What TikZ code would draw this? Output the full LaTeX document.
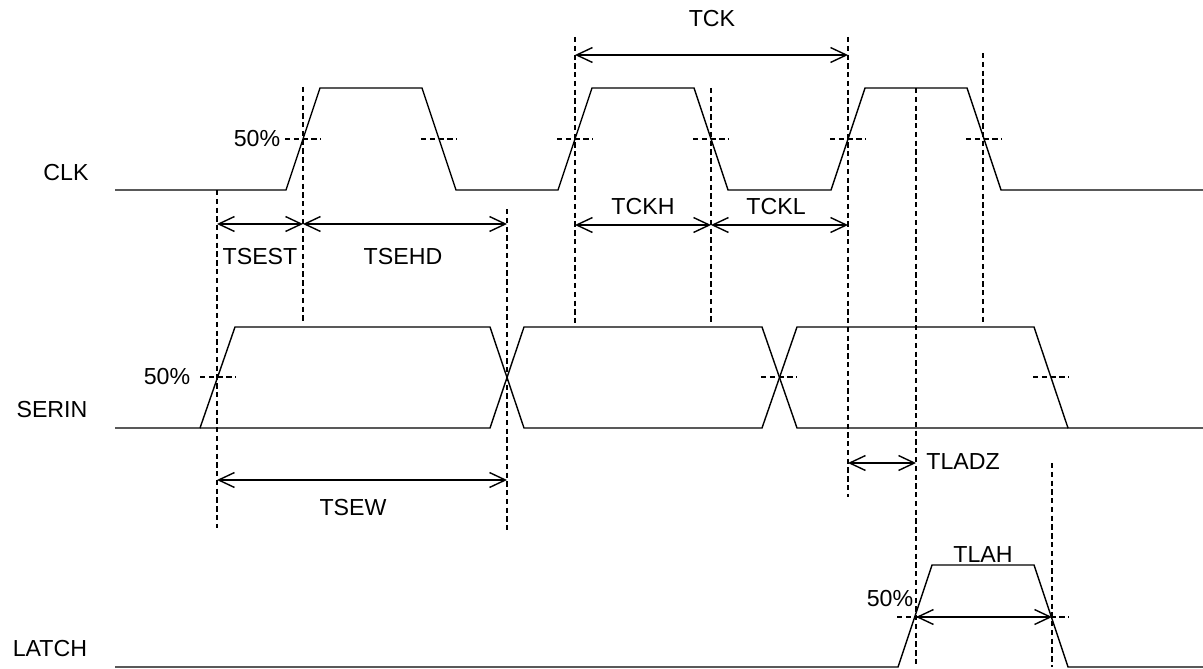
\documentclass[tikz,border=0pt]{standalone}
\usepackage{fontspec}
\setmainfont{Liberation Sans}
\usetikzlibrary{arrows.meta}
\begin{document}
\begin{tikzpicture}[x=0.02cm,y=-0.02cm,
    wave/.style={line width=0.8pt,line join=miter},
    guide/.style={line width=0.6pt,dash pattern=on 3pt off 2pt},
    dim/.style={line width=0.8pt,{Straight Barb[length=9pt,width=8.5pt]}-{Straight Barb[length=9pt,width=8.5pt]}},
    lbl/.style={font=\fontsize{13.2}{15}\selectfont,inner sep=0pt}]
    \useasboundingbox (0,0) rectangle (1203,669);
    % signal names
    \node [lbl] (ClkName)   at (66,173)  {CLK};
    \node [lbl] (SerinName) at (52,410)  {SERIN};
    \node [lbl] (LatchName) at (50,649)  {LATCH};
    % waveforms
    \draw [wave] (115,190) -- (286,190) -- (320,88) -- (422,88) -- (456,190) -- (558,190) -- (592,88) -- (694,88) -- (728,190) -- (831,190) -- (865,88) -- (967,88) -- (1001,190) -- (1203,190);% CLK
    \draw [wave] (115,428) -- (200,428) -- (235,327) -- (490,327) -- (524,428) -- (762,428) -- (797,327) -- (1034,327) -- (1068,428) -- (1203,428);% SERIN
    \draw [wave] (200,428) -- (490,428) -- (524,327) -- (762,327) -- (797,428) -- (1068,428);
    \draw [wave] (115,667) -- (898,667) -- (932,565) -- (1034,565) -- (1068,667) -- (1203,667);% LATCH
    % 50% marks
    \foreach \x in {303,439,575,711,848,984}
        \draw [guide] (\x-18,139) -- (\x+18,139);
    \foreach \x in {218,779,1051}
        \draw [guide] (\x-18,377) -- (\x+18,377);
    \foreach \x in {915,1051}
        \draw [guide] (\x-18,617) -- (\x+18,617);
    \node [lbl] (ClkHalf)   at (257,139) {50\%};
    \node [lbl] (SerinHalf) at (167,377) {50\%};
    \node [lbl] (LatchHalf) at (890,599) {50\%};
    % vertical guides
    \foreach \x/\ya/\yb in {217/190/528, 303/87/323, 507/209/530, 575/37/323, 711/88/323, 848/37/497, 916/88/667, 983/53/325, 1052/463/667}
        \draw [guide] (\x,\ya) -- (\x,\yb);
    % timing arrows
    \coordinate (SetStart)  at (217,224);
    \coordinate (SetEnd)    at (303,224);
    \coordinate (HoldEnd)   at (507,224);
    \coordinate (CkStart)   at (575,55);
    \coordinate (CkEnd)     at (848,55);
    \coordinate (CkHStart)  at (575,225);
    \coordinate (CkHEnd)    at (711,225);
    \coordinate (CkLEnd)    at (848,225);
    \coordinate (WidthStart) at (217,480);
    \coordinate (WidthEnd)   at (507,480);
    \coordinate (LadzStart) at (848,463);
    \coordinate (LadzEnd)   at (916,463);
    \coordinate (LahStart)  at (916,617);
    \coordinate (LahEnd)    at (1052,617);
    \draw [dim] (SetStart) -- (SetEnd);
    \draw [dim] (SetEnd) -- (HoldEnd);
    \draw [dim] (CkStart) -- (CkEnd);
    \draw [dim] (CkHStart) -- (CkHEnd);
    \draw [dim] (CkHEnd) -- (CkLEnd);
    \draw [dim] (WidthStart) -- (WidthEnd);
    \draw [dim] (LadzStart) -- (LadzEnd);
    \draw [dim] (LahStart) -- (LahEnd);
    \node [lbl] (TsestLabel) at (260,257) {TSEST};
    \node [lbl] (TsehdLabel) at (403,257) {TSEHD};
    \node [lbl] (TckLabel)   at (712,19)  {TCK};
    \node [lbl] (TckhLabel)  at (643,207) {TCKH};
    \node [lbl] (TcklLabel)  at (776,207) {TCKL};
    \node [lbl] (TsewLabel)  at (353,508) {TSEW};
    \node [lbl, anchor=west] (TladzLabel) at (926,462) {TLADZ};
    \node [lbl] (TlahLabel)  at (983,555) {TLAH};
\end{tikzpicture}
\end{document}
